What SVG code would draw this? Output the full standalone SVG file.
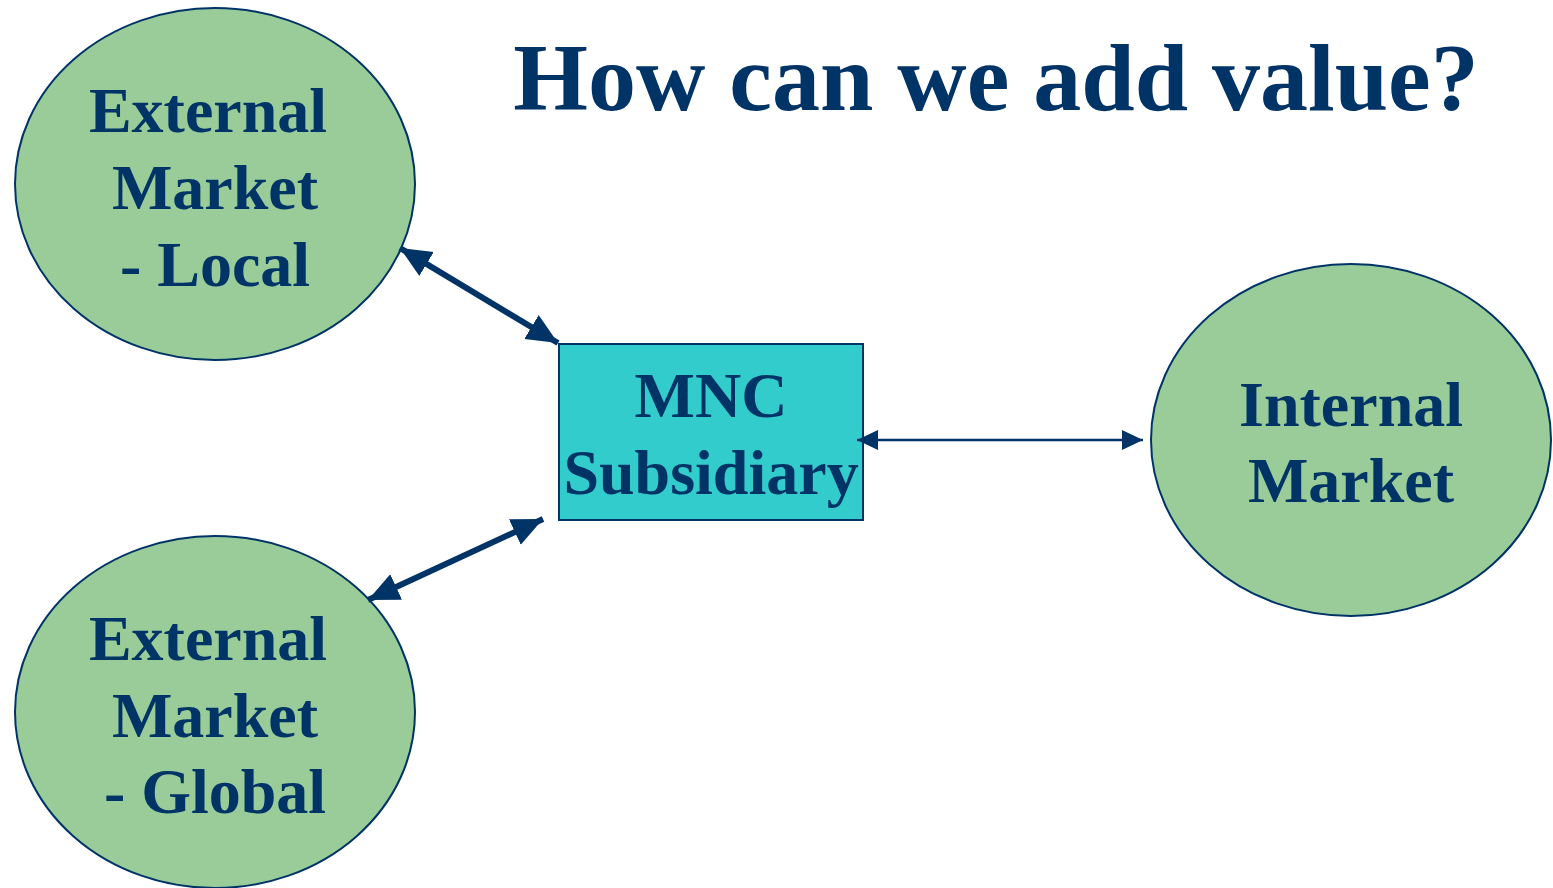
<svg xmlns="http://www.w3.org/2000/svg" width="1553" height="888" viewBox="0 0 1553 888">
<style>
.ell{fill:#99CC99;stroke:#003366;stroke-width:2}
.box{fill:#33CCCC;stroke:#003366;stroke-width:2}
.t{font-family:"Liberation Serif","Times New Roman",serif;font-weight:bold;fill:#003366;text-anchor:middle}
.n{font-size:64px}
.thick{stroke:#003366;stroke-width:6;fill:none}
.thin{stroke:#003366;stroke-width:2.5;fill:none}
</style>
<defs>
<marker id="big" markerUnits="userSpaceOnUse" markerWidth="32" markerHeight="32" viewBox="0 0 32 32" refX="31" refY="16" orient="auto-start-reverse">
<path d="M0,2 L31,16 L0,30 Z" fill="#003366"/>
</marker>
<marker id="small" markerUnits="userSpaceOnUse" markerWidth="22" markerHeight="22" viewBox="0 0 22 22" refX="21" refY="11" orient="auto-start-reverse">
<path d="M0,1 L21,11 L0,21 Z" fill="#003366"/>
</marker>
</defs>
<rect width="1553" height="888" fill="#ffffff"/>
<text class="t" x="996" y="110" font-size="96">How can we add value?</text>
<g id="ext-local">
<ellipse class="ell" cx="215" cy="184" rx="200" ry="176"/>
<text class="t n" x="208" y="132">External</text>
<text class="t n" x="215" y="209">Market</text>
<text class="t n" x="215" y="286">- Local</text>
</g>
<g id="ext-global">
<ellipse class="ell" cx="215" cy="712" rx="200" ry="176"/>
<text class="t n" x="208" y="660">External</text>
<text class="t n" x="215" y="737">Market</text>
<text class="t n" x="215" y="813">- Global</text>
</g>
<g id="internal">
<ellipse class="ell" cx="1351" cy="440" rx="200" ry="176"/>
<text class="t n" x="1351" y="426">Internal</text>
<text class="t n" x="1351" y="502">Market</text>
</g>
<g id="mnc">
<rect class="box" x="559" y="344" width="304" height="176"/>
<text class="t n" x="711" y="417">MNC</text>
<text class="t n" x="711" y="494">Subsidiary</text>
</g>
<g id="connectors">
<line class="thick" x1="400" y1="248" x2="558" y2="343" marker-start="url(#big)" marker-end="url(#big)"/>
<line class="thick" x1="368" y1="600" x2="543" y2="519" marker-start="url(#big)" marker-end="url(#big)"/>
<line class="thin" x1="857" y1="440" x2="1143" y2="440" marker-start="url(#small)" marker-end="url(#small)"/>
</g>
</svg>
